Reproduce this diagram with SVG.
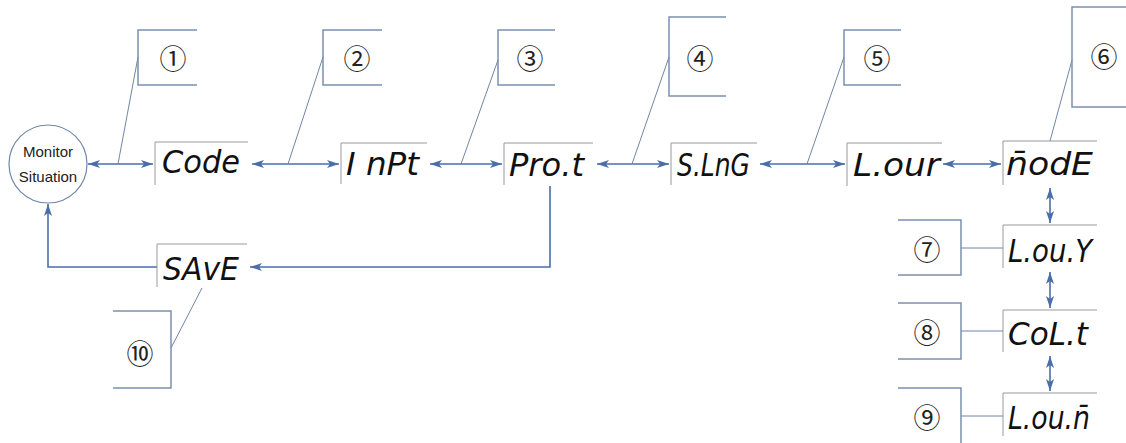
<svg xmlns="http://www.w3.org/2000/svg" width="1126" height="443" viewBox="0 0 1126 443">
<defs>
<marker id="ah" viewBox="0 0 12 8" refX="12" refY="4" markerWidth="12" markerHeight="8" markerUnits="userSpaceOnUse" orient="auto-start-reverse">
<path d="M0,0 L12,4 L0,8 L3,4 Z" fill="#4a6ea8"/>
</marker>
</defs>
<style>
.bg{fill:#ffffff}
.arr{stroke:#4a6ea8;stroke-width:1.6;fill:none}
.lead{stroke:#6e86a8;stroke-width:1;fill:none}
.cb{stroke:#7a90b0;stroke-width:1.5;fill:none}
.db{stroke:#999999;stroke-width:1;fill:none}
.seg{font-family:"DejaVu Sans","Liberation Sans",sans-serif;font-style:oblique;font-size:32px;fill:#111111}
.num{font-family:"Noto Sans CJK SC","DejaVu Sans",sans-serif;font-size:27px;fill:#222222;text-anchor:middle;dominant-baseline:central}
.mon{font-family:"Liberation Sans",Arial,sans-serif;font-size:15px;fill:#222222;text-anchor:middle}
</style>
<rect class="bg" x="0" y="0" width="1126" height="443"/>

<g id="connectors">
<line class="arr" x1="88" y1="164" x2="153" y2="164" marker-start="url(#ah)" marker-end="url(#ah)"/>
<line class="arr" x1="252" y1="164" x2="339" y2="164" marker-start="url(#ah)" marker-end="url(#ah)"/>
<line class="arr" x1="430" y1="164" x2="502" y2="164" marker-start="url(#ah)" marker-end="url(#ah)"/>
<line class="arr" x1="597" y1="164" x2="669" y2="164" marker-start="url(#ah)" marker-end="url(#ah)"/>
<line class="arr" x1="760" y1="164" x2="845" y2="164" marker-start="url(#ah)" marker-end="url(#ah)"/>
<line class="arr" x1="943" y1="164" x2="1001" y2="164" marker-start="url(#ah)" marker-end="url(#ah)"/>
<line class="arr" x1="1050" y1="188" x2="1050" y2="223" marker-start="url(#ah)" marker-end="url(#ah)"/>
<line class="arr" x1="1050" y1="272" x2="1050" y2="308" marker-start="url(#ah)" marker-end="url(#ah)"/>
<line class="arr" x1="1050" y1="356" x2="1050" y2="391" marker-start="url(#ah)" marker-end="url(#ah)"/>
<polyline class="arr" points="550,186 550,267 250,267" marker-end="url(#ah)"/>
<polyline class="arr" points="157,267 48,267 48,204" marker-end="url(#ah)"/>
<line class="lead" x1="118" y1="164" x2="138" y2="57"/>
<line class="lead" x1="288" y1="164" x2="323" y2="57"/>
<line class="lead" x1="461" y1="164" x2="498" y2="60"/>
<line class="lead" x1="632" y1="164" x2="669" y2="57"/>
<line class="lead" x1="807" y1="164" x2="844" y2="57"/>
<line class="lead" x1="1050" y1="141" x2="1072" y2="60"/>
<line class="lead" x1="171" y1="348" x2="202" y2="288"/>
<line class="lead" x1="961" y1="248" x2="1003" y2="248"/>
<line class="lead" x1="961" y1="331" x2="1003" y2="331"/>
<line class="lead" x1="961" y1="416" x2="1003" y2="416"/>
</g>

<g id="monitor">
<circle cx="48" cy="164" r="39" fill="#ffffff" stroke="#6e86a8" stroke-width="1.2"/>
<text class="mon" x="48" y="157">Monitor</text>
<text class="mon" x="48" y="182">Situation</text>
</g>

<g id="code"><path class="db" d="M155,185 V142 H248"/><text class="seg" x="162" y="173" textLength="78" lengthAdjust="spacingAndGlyphs">Code</text></g>
<g id="inpt"><path class="db" d="M341,184 V143 H427"/><text class="seg" x="346" y="175" textLength="73" lengthAdjust="spacingAndGlyphs">I nPt</text></g>
<g id="prot"><path class="db" d="M504,185 V143 H593"/><text class="seg" x="509" y="176" textLength="75" lengthAdjust="spacingAndGlyphs">Pro.t</text></g>
<g id="slng"><path class="db" d="M671,185 V143 H757"/><text class="seg" x="677" y="176" textLength="73" lengthAdjust="spacingAndGlyphs">S.LnG</text></g>
<g id="lour"><path class="db" d="M847,186 V143 H942"/><text class="seg" x="853" y="176" textLength="87" lengthAdjust="spacingAndGlyphs">L.our</text></g>
<g id="mode"><path class="db" d="M1003,185 V141 H1097"/><text class="seg" x="1006" y="175" textLength="87" lengthAdjust="spacingAndGlyphs">n̄odE</text></g>
<g id="lout"><path class="db" d="M1003,268 V225 H1097"/><text class="seg" x="1008" y="262" textLength="84" lengthAdjust="spacingAndGlyphs">L.ou.Y</text></g>
<g id="colt"><path class="db" d="M1003,352 V310 H1097"/><text class="seg" x="1008" y="345" textLength="80" lengthAdjust="spacingAndGlyphs">CoL.t</text></g>
<g id="loum"><path class="db" d="M1003,436 V393 H1097"/><text class="seg" x="1008" y="429" textLength="82" lengthAdjust="spacingAndGlyphs">L.ou.n̄</text></g>
<g id="save"><path class="db" d="M157,287 V244 H247"/><text class="seg" x="163" y="280" textLength="76" lengthAdjust="spacingAndGlyphs">SAvE</text></g>

<g id="c1"><path class="cb" d="M197,30 H138 V85 H197"/><text class="num" x="173" y="57">①</text></g>
<g id="c2"><path class="cb" d="M382,30 H323 V85 H382"/><text class="num" x="357" y="57">②</text></g>
<g id="c3"><path class="cb" d="M555,30 H498 V85 H555"/><text class="num" x="530" y="57">③</text></g>
<g id="c4"><path class="cb" d="M726,17 H669 V96 H726"/><text class="num" x="700" y="57">④</text></g>
<g id="c5"><path class="cb" d="M901,30 H844 V85 H901"/><text class="num" x="877" y="57">⑤</text></g>
<g id="c6"><path class="cb" d="M1126,7 H1072 V107 H1126"/><text class="num" x="1104" y="55">⑥</text></g>
<g id="c7"><path class="cb" d="M898,220 H961 V275 H898"/><text class="num" x="927" y="248">⑦</text></g>
<g id="c8"><path class="cb" d="M898,303 H961 V359 H898"/><text class="num" x="927" y="331">⑧</text></g>
<g id="c9"><path class="cb" d="M898,388 H961 V443"/><text class="num" x="927" y="416">⑨</text></g>
<g id="c10"><path class="cb" d="M113,311 H171 V388 H113"/><text class="num" x="140" y="352">⑩</text></g>
</svg>
